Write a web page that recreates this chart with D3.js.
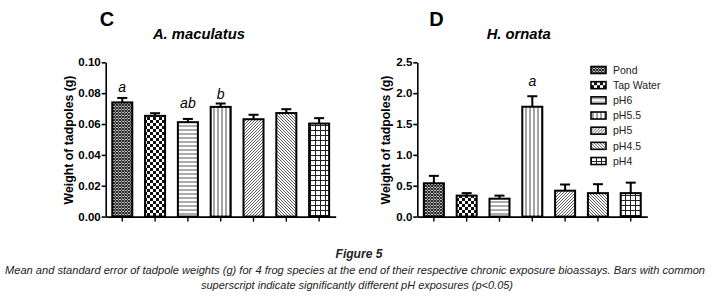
<!DOCTYPE html>
<html>
<head>
<meta charset="utf-8">
<script src="https://cdn.jsdelivr.net/npm/d3@7"></script>
<style>
  body { margin: 0; background: #fff; }
  svg { display: block; }
</style>
</head>
<body>
<div id="chart"></div>
<script>
// exposure groups, same order in both panels
const categories = ["Pond", "Tap Water", "pH6", "pH5.5", "pH5", "pH4.5", "pH4"];
const patternIds = ["pond", "tap", "ph6", "ph55", "ph5", "ph45", "ph4"];

// panel C - A. maculatus
const maculatusMean = [0.0740, 0.0653, 0.0612, 0.0711, 0.0631, 0.0671, 0.0603];
const maculatusSE = [0.0029, 0.0017, 0.0021, 0.0022, 0.0029, 0.0025, 0.0035];
const maculatusTicks = [0, 0.02, 0.04, 0.06, 0.08, 0.10];
const maculatusLetterCats = ["Pond", "pH6", "pH5.5"];
const maculatusLetters = ["a", "ab", "b"];
const maculatusLetterY = [0.0805, 0.0702, 0.0763];

// panel D - H. ornata
const ornataMean = [0.54, 0.34, 0.29, 1.78, 0.42, 0.38, 0.38];
const ornataSE = [0.12, 0.04, 0.05, 0.17, 0.10, 0.145, 0.17];
const ornataTicks = [0, 0.5, 1.0, 1.5, 2.0, 2.5];
const ornataLetterCats = ["pH5.5"];
const ornataLetters = ["a"];
const ornataLetterY = [2.12];

const width = 712, height = 298;
const svg = d3.select("#chart").append("svg")
    .attr("width", width)
    .attr("height", height)
    .style("background", "#fff");

// fill patterns for the bars and legend
const defs = svg.append("defs");
function makePattern(id, size, draw) {
    let p = defs.append("pattern")
        .attr("id", id)
        .attr("patternUnits", "userSpaceOnUse")
        .attr("width", size)
        .attr("height", size);
    p.append("rect").attr("width", size).attr("height", size).attr("fill", "#fff");
    draw(p);
}
makePattern("pond", 3, p => {
    p.append("path").attr("d", "M0,0L3,3M3,0L0,3")
        .attr("stroke", "#222").attr("stroke-width", 1.1);
});
makePattern("tap", 6, p => {
    p.append("rect").attr("x", 0).attr("y", 0).attr("width", 3).attr("height", 3).attr("fill", "#111");
    p.append("rect").attr("x", 3).attr("y", 3).attr("width", 3).attr("height", 3).attr("fill", "#111");
});
makePattern("ph6", 4, p => {
    p.append("path").attr("d", "M0,2H4").attr("stroke", "#444").attr("stroke-width", 0.9);
});
makePattern("ph55", 4, p => {
    p.append("path").attr("d", "M2,0V4").attr("stroke", "#333").attr("stroke-width", 0.9);
});
makePattern("ph5", 3, p => {
    p.append("path").attr("d", "M-1,1L1,-1M0,3L3,0M2,4L4,2")
        .attr("stroke", "#333").attr("stroke-width", 0.8);
});
makePattern("ph45", 3, p => {
    p.append("path").attr("d", "M-1,2L1,4M0,0L3,3M2,-1L4,1")
        .attr("stroke", "#333").attr("stroke-width", 0.8);
});
makePattern("ph4", 5, p => {
    p.append("path").attr("d", "M0,0.5H5M0.5,0V5")
        .attr("stroke", "#222").attr("stroke-width", 1);
});

const fontBold = "'Liberation Sans', Arial, Helvetica, sans-serif";
const yRange = [216.6, 62.3];

function drawPanel(opts) {
    let y = d3.scaleLinear().domain([0, opts.ticks[opts.ticks.length - 1]]).range(yRange);
    let x = d3.scaleBand().domain(categories)
        .range([opts.axisX, opts.axisX + 230])
        .paddingInner(0.39)
        .paddingOuter(0.2);

    let g = svg.append("g");

    // panel letter and species name
    g.append("text")
        .attr("x", opts.letterX).attr("y", 26)
        .attr("text-anchor", "middle")
        .style("font-family", fontBold).style("font-weight", "bold").style("font-size", "20px")
        .text(opts.letter);
    g.append("text")
        .attr("x", opts.titleX).attr("y", 39)
        .attr("text-anchor", "middle")
        .style("font-family", fontBold).style("font-weight", "bold")
        .style("font-style", "italic").style("font-size", "14.8px")
        .text(opts.title);

    // bars
    let rows = categories.map((c, i) => ({cat: c, mean: opts.mean[i], se: opts.se[i], pat: patternIds[i]}));
    g.selectAll(".bar").data(rows).enter().append("rect")
        .attr("class", "bar")
        .attr("x", d => x(d.cat))
        .attr("y", d => y(d.mean))
        .attr("width", x.bandwidth())
        .attr("height", d => y(0) - y(d.mean))
        .attr("fill", d => "url(#" + d.pat + ")")
        .attr("stroke", "#000")
        .attr("stroke-width", 2);

    // upper error bars only
    let err = g.selectAll(".err").data(rows).enter().append("g").attr("class", "err");
    err.append("line")
        .attr("x1", d => x(d.cat) + x.bandwidth() / 2)
        .attr("x2", d => x(d.cat) + x.bandwidth() / 2)
        .attr("y1", d => y(d.mean))
        .attr("y2", d => y(d.mean + d.se))
        .attr("stroke", "#000").attr("stroke-width", 2);
    err.append("line")
        .attr("x1", d => x(d.cat) + x.bandwidth() / 2 - 5)
        .attr("x2", d => x(d.cat) + x.bandwidth() / 2 + 5)
        .attr("y1", d => y(d.mean + d.se))
        .attr("y2", d => y(d.mean + d.se))
        .attr("stroke", "#000").attr("stroke-width", 2);

    // significance letters
    g.selectAll(".sig").data(opts.letterCats).enter().append("text")
        .attr("class", "sig")
        .attr("x", d => x(d) + x.bandwidth() / 2)
        .attr("y", (d, i) => y(opts.letterY[i]))
        .attr("text-anchor", "middle")
        .style("font-family", fontBold).style("font-style", "italic").style("font-size", "14px")
        .text((d, i) => opts.letters[i]);

    // y axis
    let yAxis = g.append("g")
        .attr("transform", "translate(" + opts.axisX + ",0)")
        .call(d3.axisLeft(y).tickValues(opts.ticks).tickFormat(d3.format(opts.fmt))
            .tickSize(4).tickPadding(1).tickSizeOuter(0));
    yAxis.select(".domain").attr("stroke-width", 1.6);
    yAxis.selectAll(".tick line").attr("stroke-width", 1.6);
    yAxis.selectAll(".tick text")
        .style("font-family", fontBold).style("font-weight", "bold").style("font-size", "11.5px")
        .attr("fill", "#000");

    // x axis, tick marks only
    let xAxis = g.append("g")
        .attr("transform", "translate(0," + y(0) + ")")
        .call(d3.axisBottom(x).tickSize(5).tickSizeOuter(0).tickFormat(""));
    xAxis.select(".domain").attr("stroke-width", 1.6);
    xAxis.selectAll(".tick line").attr("stroke-width", 1.4);

    // axis title
    g.append("text")
        .attr("transform", "translate(" + opts.labelX + ",140) rotate(-90)")
        .attr("text-anchor", "middle")
        .style("font-family", fontBold).style("font-weight", "bold").style("font-size", "12.3px")
        .text("Weight of tadpoles (g)");
}

drawPanel({
    letter: "C", letterX: 107, title: "A. maculatus", titleX: 199,
    axisX: 105.7, labelX: 72.5,
    mean: maculatusMean, se: maculatusSE, ticks: maculatusTicks, fmt: ".2f",
    letterCats: maculatusLetterCats, letters: maculatusLetters, letterY: maculatusLetterY
});
drawPanel({
    letter: "D", letterX: 436.5, title: "H. ornata", titleX: 518.7,
    axisX: 417.3, labelX: 389.5,
    mean: ornataMean, se: ornataSE, ticks: ornataTicks, fmt: ".1f",
    letterCats: ornataLetterCats, letters: ornataLetters, letterY: ornataLetterY
});

// legend for panel D
let legend = svg.append("g").selectAll("g").data(categories).enter().append("g")
    .attr("transform", (d, i) => "translate(591," + (70 + i * 15.17) + ")");
legend.append("rect")
    .attr("x", 0).attr("y", -3.5).attr("width", 15).attr("height", 7)
    .attr("fill", (d, i) => "url(#" + patternIds[i] + ")")
    .attr("stroke", "#000").attr("stroke-width", 1.6);
legend.append("text")
    .attr("x", 22).attr("y", 0).attr("dy", "0.36em")
    .style("font-family", fontBold).style("font-size", "10.5px")
    .attr("fill", "#222")
    .text(d => d);

// figure caption
const capFont = "'Liberation Sans Narrow', 'Liberation Sans', Arial, sans-serif";
svg.append("text")
    .attr("x", 359).attr("y", 258).attr("text-anchor", "middle")
    .attr("textLength", 47).attr("lengthAdjust", "spacingAndGlyphs")
    .style("font-family", capFont).style("font-weight", "bold").style("font-style", "italic")
    .style("font-size", "12px").attr("fill", "#222")
    .text("Figure 5");
svg.append("text")
    .attr("x", 5).attr("y", 274)
    .attr("textLength", 700).attr("lengthAdjust", "spacingAndGlyphs")
    .style("font-family", capFont).style("font-style", "italic")
    .style("font-size", "10.2px").attr("fill", "#222")
    .text("Mean and standard error of tadpole weights (g) for 4 frog species at the end of their respective chronic exposure bioassays. Bars with common");
svg.append("text")
    .attr("x", 201).attr("y", 289)
    .attr("textLength", 312).attr("lengthAdjust", "spacingAndGlyphs")
    .style("font-family", capFont).style("font-style", "italic")
    .style("font-size", "10.8px").attr("fill", "#222")
    .text("superscript indicate significantly different pH exposures (p<0.05)");
</script>
</body>
</html>
